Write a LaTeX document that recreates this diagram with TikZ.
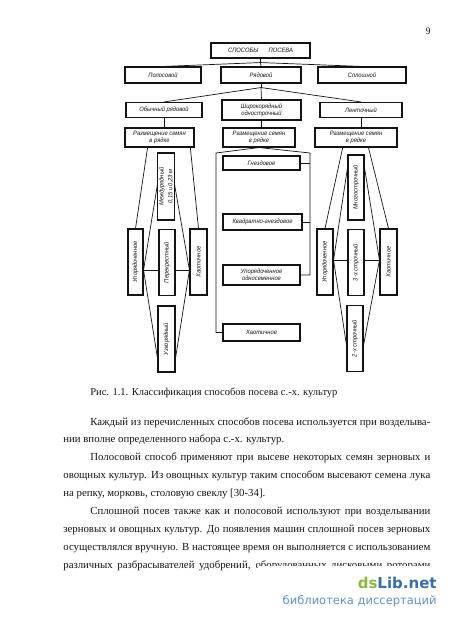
\documentclass[tikz,border=0pt]{standalone}
\usepackage{fontspec}
\setmainfont{Liberation Serif}
\newfontfamily\diafont[FakeStretch=0.92]{Liberation Sans}
\newfontfamily\markfont{DejaVu Sans}
\usetikzlibrary{calc}
\definecolor{ink}{RGB}{20,20,20}
\definecolor{dsgreen}{RGB}{140,186,60}
\definecolor{dsblue}{RGB}{52,112,172}
\definecolor{libblue}{RGB}{96,146,196}
\newcommand{\vtext}[1]{\rotatebox{90}{#1}}
\tikzset{
  every picture/.style={color=ink, line width=0.7pt},
  box/.style={draw=ink, line width=1.1pt, inner sep=1pt, align=center,
    font=\diafont\itshape\fontsize{6.3}{7}\selectfont},
  wide/.style={box, minimum width=78pt, minimum height=16pt},
  vbox/.style={box, minimum width=16pt, minimum height=66pt},
  link/.style={line width=0.7pt},
  txt/.style={anchor=base west, inner sep=0pt, font=\fontsize{10.8}{12}\selectfont},
  pageno/.style={inner sep=0pt, font=\fontsize{10}{12}\selectfont},
}

\begin{document}
\begin{tikzpicture}[x=1pt, y=-1pt]
  % one page of the thesis: the tree of sowing methods, its caption
  % and the text that follows; coordinates are pixels of the page
  \useasboundingbox (0,0) rectangle (450,621);
  \node[pageno] (pg) at (428,31) {9};

  % levels 0--2
  \node[box, minimum width=99pt, minimum height=15pt] (title) at (260.5,50.5) {СПОСОБЫ\hspace{1.6em}ПОСЕВА};
  \node[wide, minimum width=76pt] (pol) at (163,75) {Полосовой};
  \node[wide, minimum width=80pt] (ryad) at (261,75) {Рядовой};
  \node[wide, minimum width=88pt] (splosh) at (362,75) {Сплошной};
  \node[wide, minimum width=76pt, minimum height=15pt] (obych) at (164,110) {Обычный рядовой};
  \node[wide, minimum width=79pt, minimum height=20pt] (shir) at (261.5,110) {Широкорядный\\однострочный};
  \node[wide, minimum width=82pt, minimum height=15pt] (lent) at (361,110) {Ленточный};
  \node[wide, minimum width=69pt, minimum height=19pt] (raz1) at (159.5,137.5) {Размещение семян\\в рядке};
  \node[wide, minimum width=72pt, minimum height=19pt] (raz2) at (259,137.5) {Размещение семян\\в рядке};
  \node[wide, minimum width=82pt, minimum height=19pt] (raz3) at (356,137.5) {Размещение семян\\в рядке};

  \coordinate (j0) at ([yshift=-4pt]title.south);
  \draw[link] (title.south) -- (j0);
  \draw[link] (j0) -- (pol.north);
  \draw[link] (j0) -- (ryad.north);
  \draw[link] (j0) -- (splosh.north);
  \coordinate (j1) at ([yshift=-4pt]ryad.south);
  \draw[link] (ryad.south) -- (j1);
  \draw[link] (j1) -- (obych.north);
  \draw[link] (j1) -- (shir.north);
  \draw[link] (j1) -- (lent.north);
  \draw[link] (obych.south) -- (obych.south |- raz1.north);
  \draw[link] (shir.south) -- (shir.south |- raz2.north);
  \draw[link] (lent.south) -- (lent.south |- raz3.north);

  % ordinary row sowing
  \node[vbox, minimum height=67pt] (mezh) at (166,186.5) {\vtext{\shortstack{Междурядный\\0,15 и 0,23 м}}};
  \node[vbox, minimum width=15pt] (upor1) at (135.5,262) {\vtext{Упорядоченное}};
  \node[vbox] (perek) at (167,262.5) {\vtext{Перекрестный}};
  \node[vbox, minimum width=17pt] (haot1) at (198.5,262) {\vtext{Хаотичное}};
  \node[vbox, minimum width=17pt] (uzko) at (166.5,339) {\vtext{Узкорядный}};
  \coordinate (la) at (upor1.east |- 0,270);
  \coordinate (lb) at (haot1.west |- 0,270);
  \draw[link] ($(raz1.south west)!0.33!(raz1.south east)$) -- (upor1.north);
  \draw[link] ($(raz1.south west)!0.94!(raz1.south east)$) -- (haot1.north);
  \draw[link] (la) -- (perek.west |- la);
  \draw[link] (perek.east |- lb) -- (lb);
  \draw[link] (la) -- (mezh.west |- 0,185);
  \draw[link] (lb) -- (mezh.east |- 0,185);
  \draw[link] (la) -- (uzko.west |- 0,358);
  \draw[link] (lb) -- (uzko.east |- 0,358);

  % wide-row single-line sowing
  \node[wide, minimum width=77pt, minimum height=14pt] (gnezd) at (261.5,163) {Гнездовое};
  \node[wide, minimum width=79pt, minimum height=16pt] (kvadr) at (262.5,222) {Квадратно-гнездовое};
  \node[wide, minimum width=77pt, minimum height=20pt] (odnos) at (261.5,275) {Упорядоченное\\односеменное};
  \node[wide, minimum width=77pt, minimum height=17pt] (haot2) at (261.5,332.5) {Хаотичное};
  \coordinate (busl) at (216,153);
  \coordinate (busr) at (310,153);
  \draw[link] (raz2.south) -- (busl) |- (haot2.west);
  \draw[link] (raz2.south) -- (busr) |- (odnos.east);
  \draw[link] (gnezd.east) -- (gnezd.east -| busr);
  \draw[link] (kvadr.east) -- (kvadr.east -| busr);

  % band sowing
  \node[vbox, minimum height=65pt] (mnogo) at (356,187.5) {\vtext{Многострочный}};
  \node[vbox] (upor3) at (325,262) {\vtext{Упорядоченное}};
  \node[vbox] (tri) at (356,262.5) {\vtext{3-х строчный}};
  \node[vbox, minimum width=17pt] (haot3) at (388.5,262) {\vtext{Хаотичное}};
  \node[vbox] (dva) at (355,338.5) {\vtext{2-х строчный}};
  \coordinate (ra) at (upor3.east |- 0,260);
  \coordinate (rb) at (haot3.west |- 0,260);
  \draw[link] ($(raz3.south west)!0.34!(raz3.south east)$) -- (upor3.north);
  \draw[link] ($(raz3.south west)!0.65!(raz3.south east)$) -- (haot3.north);
  \draw[link] (ra) -- (tri.west |- ra);
  \draw[link] (tri.east |- rb) -- (rb);
  \draw[link] (ra) -- (mnogo.west |- 0,168);
  \draw[link] (rb) -- (mnogo.east |- 0,168);
  \draw[link] (ra) -- (dva.west |- 0,345);
  \draw[link] (rb) -- (dva.east |- 0,345);

  % caption and text
  \node[txt, font=\fontsize{10.5}{12}\selectfont] (cap) at (90,395) {Рис. 1.1. Классификация способов посева с.-х. культур};
  \node[txt] (t1) at (90,425) {\makebox[340pt][s]{Каждый из перечисленных способов посева используется при возделыва-}};
  \node[txt] (t2) at (63,442.9) {нии вполне определенного набора с.-х. культур.};
  \node[txt] (t3) at (90,460.8) {\makebox[340pt][s]{Полосовой способ применяют при высеве некоторых семян зерновых и}};
  \node[txt] (t4) at (63,478.7) {\makebox[367pt][s]{овощных культур. Из овощных культур таким способом высевают семена лука}};
  \node[txt] (t5) at (63,496.6) {на репку, морковь, столовую свеклу [30-34].};
  \node[txt] (t6) at (90,514.5) {\makebox[340pt][s]{Сплошной посев также как и полосовой используют при возделывании}};
  \node[txt] (t7) at (63,532.4) {\makebox[367pt][s]{зерновых и овощных культур. До появления машин сплошной посев зерновых}};
  \node[txt] (t8) at (63,550.3) {\makebox[367pt][s]{осуществлялся вручную. В настоящее время он выполняется с использованием}};
  \node[txt] (t9) at (63,568.2) {\makebox[367pt][s]{различных разбрасывателей удобрений, оборудованных дисковыми роторами}};

  % watermark over the last line
  \fill[white] (258,566) rectangle (450,621);
  \node[anchor=east, inner sep=0pt, font=\markfont\bfseries\fontsize{15}{15}\selectfont] (dsl) at (437,583) {\textcolor{dsgreen}{ds}\textcolor{dsblue}{Lib.net}};
  \node[anchor=east, inner sep=0pt, text=libblue, font=\markfont\fontsize{11.5}{12}\selectfont] (bib) at (437,601) {библиотека диссертаций};
\end{tikzpicture}
\end{document}
